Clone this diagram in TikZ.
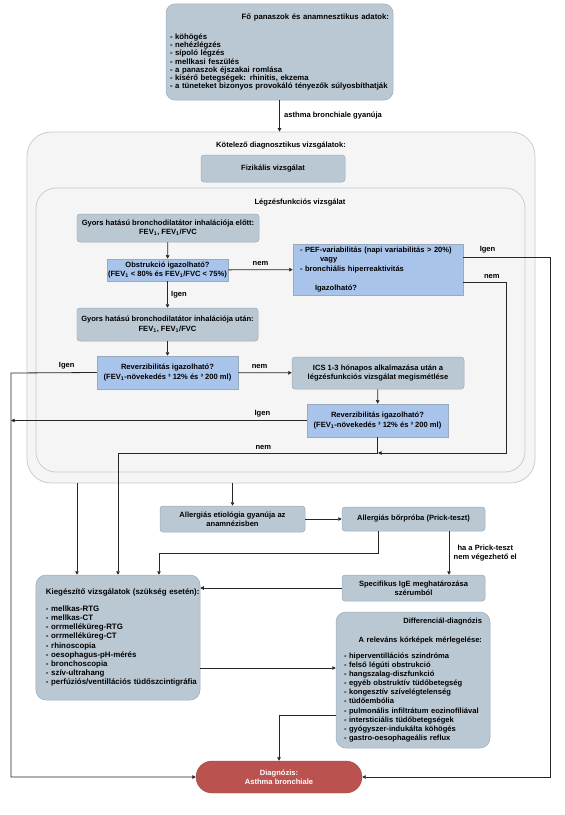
\documentclass[tikz,border=0pt]{standalone}
\usepackage{fontspec}
\setmainfont{Liberation Sans}
\usetikzlibrary{arrows.meta,positioning,calc}
\definecolor{szurkekek}{HTML}{BAC8D3}
\definecolor{kek}{HTML}{A9C4EB}
\definecolor{dobozkeret}{HTML}{98AABB}
\definecolor{hatter}{HTML}{F5F5F5}
\definecolor{hatterkeret}{HTML}{C8C8C8}
\definecolor{piros}{HTML}{BA5350}
\definecolor{vonal}{HTML}{262626}
\newcommand{\fev}{FEV\textsubscript{1}}

\begin{document}
\begin{tikzpicture}[x=1bp, y=-1bp, font=\fontsize{7.6}{9.5}\selectfont\bfseries,
  doboz/.style={draw=dobozkeret, fill=szurkekek, rounded corners=3bp, align=center, inner sep=0pt, line width=0.5bp},
  kerdes/.style={draw=dobozkeret, fill=kek, align=center, inner sep=0pt, line width=0.5bp},
  tarolo/.style={draw=hatterkeret, fill=hatter, rounded corners=24bp, inner sep=0pt, line width=0.7bp},
  lista/.style={font=\fontsize{7.8}{#1}\selectfont\bfseries, align=left},
  nyil/.style={draw=vonal, line width=0.8bp, -{Triangle[length=3.5bp,width=3.5bp]}}]
  \useasboundingbox (0,0) rectangle (565,815);

  % keretek
  \node[tarolo, minimum width=508bp, minimum height=351bp] (kotelezo) at (281,307.5) {};
  \node (kotcim) at (281,146) {K\"otelez\H{o} diagnosztikus vizsg\'alatok:};
  \node[tarolo, rounded corners=20bp, minimum width=489bp, minimum height=284bp] (legzes) at (280.5,330) {};
  \node (legcim) at (300,203) {L\'egz\'esfunkci\'os vizsg\'alat};

  \node[doboz, rounded corners=9bp, minimum width=227bp, minimum height=96bp, text width=219bp, lista=8.3] (panasz) at (279.5,52)
    {\hspace*{\fill}F\H{o} panaszok \'es anamnesztikus adatok:\hspace*{\fill}\\[11.7bp]
     - k\"oh\"og\'es\\
     - neh\'ezl\'egz\'es\\
     - s\'ipol\'o l\'egz\'es\\
     - mellkasi fesz\"ul\'es\\
     - a panaszok \'ejszakai roml\'asa\\
     - k\'is\'er\H{o} betegs\'egek: rhinitis, ekzema\\
     - a t\"uneteket bizonyos provok\'al\'o t\'enyez\H{o}k s\'ulyosb\'ithatj\'ak};
  \node[doboz, minimum width=144bp, minimum height=27bp] (fizikalis) at (273,168.5) {Fizik\'alis vizsg\'alat};

  \node[doboz, minimum width=182bp, minimum height=28bp] (elott) at (168,228) {Gyors hat\'as\'u bronchodilat\'ator inhal\'aci\'oja el\H{o}tt:\\\fev, \fev/FVC};
  \node[kerdes, minimum width=121bp, minimum height=22bp, font=\fontsize{7.6}{8.8}\selectfont\bfseries] (obstr) at (167.5,270) {Obstrukci\'o igazolhat\'o?\\(\fev{} < 80\% \'es \fev/FVC < 75\%)};
  \node[kerdes, minimum width=170bp, minimum height=51bp, text width=156bp, align=left, font=\fontsize{7.6}{9.3}\selectfont\bfseries] (pef) at (378,269.5)
    {- PEF-variabilit\'as (napi variabilit\'as > 20\%)\\
     \hspace*{20bp}vagy\\
     - bronchi\'alis hiperreaktivit\'as\\[9.7bp]
     \hspace*{15bp}Igazolhat\'o?};
  \node[doboz, minimum width=181bp, minimum height=33bp] (utan) at (167.5,324.5) {Gyors hat\'as\'u bronchodilat\'ator inhal\'aci\'oja ut\'an:\\\fev, \fev/FVC};
  \node[kerdes, minimum width=141bp, minimum height=33bp] (rev1) at (167.5,372.5) {Reverzibilit\'as igazolhat\'o?\\(\fev-n\"oveked\'es \textthreesuperior{} 12\% \'es \textthreesuperior{} 200 ml)};
  \node[doboz, minimum width=172bp, minimum height=32bp] (ics) at (378,373) {ICS 1-3 h\'onapos alkalmaz\'asa ut\'an a\\l\'egz\'esfunkci\'os vizsg\'alat megism\'etl\'ese};
  \node[kerdes, minimum width=141bp, minimum height=33bp] (rev2) at (377.5,420.5) {Reverzibilit\'as igazolhat\'o?\\(\fev-n\"oveked\'es \textthreesuperior{} 12\% \'es \textthreesuperior{} 200 ml)};

  \node[doboz, minimum width=145bp, minimum height=26bp] (etiol) at (232.5,519) {Allergi\'as etiol\'ogia gyan\'uja az\\anamn\'ezisben};
  \node[doboz, minimum width=143bp, minimum height=24bp] (borpr) at (413.5,519) {Allergi\'as b\H{o}rpr\'oba (Prick-teszt)};
  \node[doboz, minimum width=143bp, minimum height=26bp] (ige) at (413.5,588) {Specifikus IgE meghat\'aroz\'asa\\sz\'erumb\'ol};

  \node[doboz, rounded corners=10bp, minimum width=164bp, minimum height=125bp] (kieg) at (118,637.5) {};
  \node[lista=9.25, font=\fontsize{7.9}{9.25}\selectfont\bfseries, text width=155bp, anchor=west, inner sep=0pt] (kiegszoveg) at ([xshift=10bp]kieg.west)
    {Kieg\'esz\'it\H{o} vizsg\'alatok (sz\"uks\'eg eset\'en):\\[7.75bp]
     - mellkas-RTG\\
     - mellkas-CT\\
     - orrmell\'ek\"ureg-RTG\\
     - orrmell\'ek\"ureg-CT\\
     - rhinoscopia\\
     - oesophagus-pH-m\'er\'es\\
     - bronchoscopia\\
     - sz\'iv-ultrahang\\
     - perf\'uzi\'os/ventill\'aci\'os t\"ud\H{o}szcintigr\'afia};
  \node[doboz, rounded corners=10bp, minimum width=154bp, minimum height=136bp, text width=138bp, lista=9.1, font=\fontsize{7.6}{9.1}\selectfont\bfseries] (diff) at (413,680)
    {\hspace*{\fill}Differenci\'al-diagn\'ozis\hspace*{\fill}\\[9.9bp]
     \hspace*{\fill}A relev\'ans k\'ork\'epek m\'erlegel\'ese:\hspace*{\fill}\\[6.9bp]
     - hiperventill\'aci\'os szindr\'oma\\
     - fels\H{o} l\'eg\'uti obstrukci\'o\\
     - hangszalag-diszfunkci\'o\\
     - egy\'eb obstrukt\'iv t\"ud\H{o}betegs\'eg\\
     - kongeszt\'iv sz\'ivel\'egtelens\'eg\\
     - t\"ud\H{o}emb\'olia\\
     - pulmon\'alis infiltr\'atum eozinof\'ili\'aval\\
     - interstici\'alis t\"ud\H{o}betegs\'egek\\
     - gy\'ogyszer-induk\'alta k\"oh\"og\'es\\
     - gastro-oesophage\'alis reflux};
  \node[fill=piros, draw=piros!85!black, rounded corners=16bp, minimum width=166bp, minimum height=32bp, text=white, align=center, inner sep=0pt] (diag) at (279,777) {Diagn\'ozis:\\Asthma bronchiale};

  \coordinate (jobb) at (550,257);
  \coordinate (pefnem) at (506,282);
  \coordinate (rev2nem) at (378,453);
  \coordinate (balso) at (11,373);
  \coordinate (nemsarok) at (118,453);
  \coordinate (allsarok) at (159,553);

  \begin{scope}[nyil]
   \draw (panasz.south) -- node[right, xshift=1bp]{asthma bronchiale gyan\'uja} (panasz.south |- kotelezo.north);
   \draw (elott) -- (obstr);
   \draw (obstr) -- node[above]{nem} (pef);
   \draw (obstr) -- node[right]{Igen} (utan);
   \draw (utan) -- (rev1);
   \draw (rev1) -- node[above, pos=.4]{nem} (ics);
   \draw (ics) -- (rev2);
   \draw (pef.east |- jobb) -- node[above, pos=.28]{Igen} (jobb) |- (diag.east);
   \draw (pef.east |- pefnem) -- node[above, pos=.67]{nem} (pefnem) |- (rev2nem);
   \draw (rev1.west) -- node[above, pos=.35]{Igen} (balso) |- (diag.west);
   \draw (rev2.west) -- node[above, pos=.15]{Igen} (rev2.west -| balso);
   \draw[-] (rev2.south) |- node[above, pos=.72]{nem} (nemsarok);
   \draw (nemsarok) -- (nemsarok |- kieg.north);
   \draw ([xshift=-41bp]kieg.north |- kotelezo.south) -- ([xshift=-41bp]kieg.north);
   \draw (etiol.north |- kotelezo.south) -- (etiol);
   \draw (etiol) -- (borpr);
   \draw[-] ([xshift=-35.5bp]borpr.south) |- (allsarok);
   \draw (allsarok) -- (allsarok |- kieg.north);
   \draw ([xshift=35.5bp]borpr.south) -- node[right, xshift=1bp, align=center]{ha a Prick-teszt\\nem v\'egezhet\H{o} el} ([xshift=35.5bp]ige.north);
   \draw (ige.west) -- (ige.west -| kieg.east);
   \draw ([yshift=-30.5bp]kieg.east) -- ([yshift=-30.5bp]kieg.east -| diff.west);
   \draw ([yshift=-35bp]diff.west) -| (diag.north);
  \end{scope}
\end{tikzpicture}
\end{document}
